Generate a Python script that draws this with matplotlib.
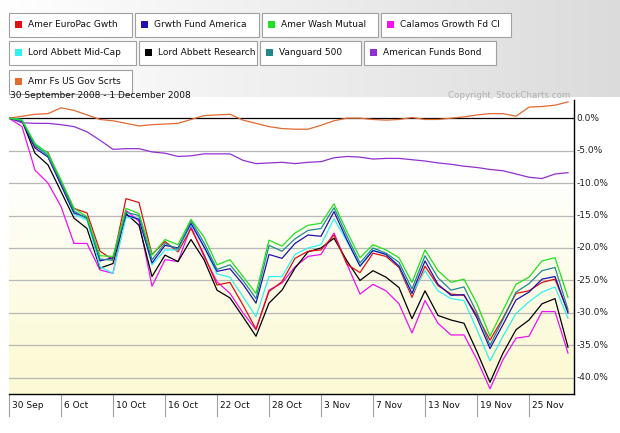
import matplotlib
matplotlib.use("Agg")
import matplotlib.pyplot as plt
import matplotlib.transforms as mtrans
from matplotlib.patches import Rectangle
import numpy as np

tick_labels = ["30 Sep", "6 Oct", "10 Oct", "16 Oct", "22 Oct", "28 Oct", "3 Nov", "7 Nov", "13 Nov", "19 Nov", "25 Nov"]
tick_idx = [0, 4, 8, 12, 16, 20, 24, 28, 32, 36, 40]

amer_europac = [0,-0.3,-4.4,-5.3,-10.0,-13.9,-14.6,-20.5,-21.8,-12.4,-13.0,-21.0,-19.0,-20.6,-17.0,-21.0,-25.7,-25.3,-28.8,-32.5,-26.7,-25.2,-21.6,-20.5,-20.3,-18.0,-22.5,-23.8,-20.8,-21.3,-23.0,-27.6,-22.8,-25.8,-27.1,-27.3,-30.4,-34.2,-30.8,-27.0,-26.6,-25.3,-24.8,-29.8]
growth_fund = [0,-0.5,-4.6,-6.0,-10.3,-14.6,-15.3,-22.0,-21.5,-14.9,-15.6,-22.3,-19.6,-20.0,-16.2,-19.8,-23.6,-23.2,-25.6,-28.5,-21.0,-21.6,-19.3,-18.0,-18.2,-14.4,-18.8,-22.8,-20.4,-21.0,-22.8,-27.0,-22.0,-25.6,-27.3,-27.2,-30.8,-35.5,-31.8,-28.0,-26.8,-24.8,-24.4,-30.0]
wash_mutual = [0,-0.3,-3.9,-5.4,-9.5,-13.9,-15.2,-21.2,-21.3,-13.9,-14.7,-21.1,-18.7,-19.5,-15.6,-18.3,-22.6,-21.8,-24.4,-27.0,-18.8,-19.7,-17.7,-16.5,-16.2,-13.2,-17.5,-21.5,-19.5,-20.3,-21.5,-25.3,-20.3,-23.5,-25.3,-24.8,-28.6,-33.6,-29.6,-25.6,-24.5,-22.0,-21.5,-27.6]
calamos = [0,-1.3,-8.0,-10.0,-13.6,-19.3,-19.3,-23.4,-23.9,-14.2,-15.9,-25.9,-21.8,-22.1,-16.7,-21.3,-25.2,-27.0,-30.0,-32.6,-26.5,-25.4,-22.9,-21.3,-21.0,-17.7,-22.5,-27.1,-25.6,-26.6,-28.6,-33.1,-28.1,-31.6,-33.4,-33.4,-37.2,-41.7,-37.2,-33.9,-33.6,-29.8,-29.8,-36.2]
lord_midcap = [0,-0.2,-4.0,-5.6,-10.2,-14.8,-15.7,-22.9,-23.9,-15.3,-15.4,-22.6,-20.3,-20.3,-16.4,-19.9,-24.0,-24.5,-27.5,-30.6,-24.4,-24.4,-21.0,-20.0,-19.5,-15.5,-19.0,-22.8,-20.3,-21.0,-22.8,-27.1,-23.5,-26.6,-27.8,-28.1,-32.6,-37.4,-33.6,-30.1,-28.3,-26.8,-26.0,-30.8]
lord_research = [0,-0.4,-5.4,-7.2,-11.3,-15.4,-17.0,-23.1,-22.4,-14.7,-16.5,-24.4,-21.1,-22.1,-18.7,-21.8,-26.5,-27.7,-30.6,-33.6,-28.5,-26.5,-23.1,-20.6,-20.0,-18.5,-22.0,-25.0,-23.5,-24.5,-26.1,-30.9,-26.6,-30.4,-31.1,-31.6,-36.0,-40.7,-36.2,-32.6,-31.1,-28.6,-27.8,-35.3]
vanguard500 = [0,-0.4,-4.2,-5.8,-9.9,-14.3,-15.5,-21.7,-21.9,-14.5,-15.0,-21.8,-19.3,-20.2,-15.8,-19.2,-23.3,-22.6,-25.0,-27.8,-19.6,-20.5,-18.6,-17.3,-17.0,-13.8,-18.2,-22.3,-20.0,-20.8,-22.2,-26.3,-21.2,-24.6,-26.5,-26.0,-30.0,-35.0,-31.0,-26.8,-25.5,-23.5,-23.0,-29.5]
funds_bond = [0,-0.7,-0.8,-0.8,-1.0,-1.3,-2.1,-3.4,-4.8,-4.7,-4.7,-5.2,-5.4,-5.9,-5.8,-5.5,-5.5,-5.5,-6.5,-7.0,-6.9,-6.8,-7.0,-6.8,-6.7,-6.1,-5.9,-6.0,-6.3,-6.2,-6.2,-6.4,-6.6,-6.9,-7.1,-7.4,-7.6,-7.9,-8.1,-8.6,-9.1,-9.3,-8.6,-8.4]
gov_secs = [0,0.3,0.6,0.7,1.6,1.2,0.5,-0.2,-0.4,-0.8,-1.2,-1.0,-0.9,-0.8,-0.2,0.4,0.5,0.6,-0.3,-0.8,-1.3,-1.6,-1.7,-1.7,-1.1,-0.4,0.0,0.0,-0.2,-0.3,-0.2,0.1,-0.2,-0.2,0.0,0.2,0.5,0.7,0.7,0.3,1.7,1.8,2.0,2.5]

series = [
    ("Amer EuroPac Gwth", "#e01010", amer_europac),
    ("Grwth Fund America", "#2010b0", growth_fund),
    ("Amer Wash Mutual", "#20e020", wash_mutual),
    ("Calamos Growth Fd Cl", "#f010f0", calamos),
    ("Lord Abbett Mid-Cap", "#30f0f0", lord_midcap),
    ("Lord Abbett Research", "#000000", lord_research),
    ("Vanguard 500", "#208890", vanguard500),
    ("American Funds Bond", "#9030d0", funds_bond),
    ("Amr Fs US Gov Scrts", "#e06a30", gov_secs),
]

W, H = 620, 433
fig = plt.figure(figsize=(6.2, 4.33), dpi=100)
fig.patch.set_facecolor("white")

# legend background gradient
bg = fig.add_axes([0, 1 - 97 / H, 1, 97 / H])
bg.axis("off")
grad = np.linspace(1.0, 0.86, 256)[None, :]
bg.imshow(np.dstack([grad, grad, grad]), aspect="auto", extent=[0, 1, 0, 1])
bg.set_xlim(0, 1); bg.set_ylim(0, 1)

boxes = [(9, 13, 123), (135, 13, 124), (262, 13, 116), (381, 13, 130),
         (9, 41, 127), (139, 41, 118), (260, 41, 101), (364, 41, 132),
         (9, 70, 123)]
for (name, col, _), (x0, y0, w) in zip(series, boxes):
    h = 24
    fig.patches.append(Rectangle((x0 / W, 1 - (y0 + h) / H), w / W, h / H, transform=fig.transFigure,
                                 facecolor="white", edgecolor="#a0a0a0", lw=0.8))
    fig.patches.append(Rectangle(((x0 + 6) / W, 1 - (y0 + 15) / H), 7 / W, 7 / H, transform=fig.transFigure,
                                 facecolor=col, edgecolor="none"))
    fig.text((x0 + 19) / W, 1 - (y0 + 11.5) / H, name, fontsize=6.5, va="center", ha="left", color="#111111")

# plot axes
left, right, top, bottom = 9, 574, 100, 394
ax = fig.add_axes([left / W, 1 - bottom / H, (right - left) / W, (bottom - top) / H])
n = len(wash_mutual)
x = np.arange(n)
ymin, ymax = -42.5, 2.8
xmax = (right - left) / 13.0
ax.set_xlim(0, xmax)
ax.set_ylim(ymin, ymax)

# background gradient white -> light yellow
yy = np.linspace(ymax, ymin, 300)
t = np.clip((-yy - 8) / 30, 0, 1)[:, None]
c0 = np.array([1, 1, 1]); c1 = np.array([0.99, 0.98, 0.84])
img = (c0 * (1 - t) + c1 * t)[:, None, :]
ax.imshow(img, aspect="auto", extent=[0, xmax, ymin, ymax], zorder=0)

for yv in range(-40, 1, 5):
    ax.axhline(yv, color="#000000" if yv == 0 else "#b8b8b8", lw=0.9, zorder=1)

order = [7, 8, 3, 5, 0, 4, 1, 6, 2]
for i in order:
    name, col, vals = series[i]
    ax.plot(x, vals, color=col, lw=0.9, zorder=3)

ax.set_xticks([]); ax.set_yticks([])
for s in ["left", "top"]:
    ax.spines[s].set_visible(False)
ax.spines["right"].set_linewidth(1.0)
ax.spines["bottom"].set_linewidth(1.0)

for yv in range(-40, 1, 5):
    ax.text(1.004, yv, f"{yv:.1f}%", transform=mtrans.blended_transform_factory(ax.transAxes, ax.transData),
            fontsize=6.5, va="center", ha="left", color="#222222")

tr = mtrans.blended_transform_factory(ax.transData, fig.transFigure)
for idx, lab in zip(tick_idx, tick_labels):
    ax.plot([idx, idx], [1 - bottom / H, 1 - 416 / H], transform=tr, color="#a0a0a0", lw=0.8, clip_on=False)
    ax.text(idx + 0.25, 1 - 406 / H, lab, transform=tr, fontsize=6.5, va="center", ha="left", color="#111111")

fig.text(10 / W, 1 - 96 / H, "30 September 2008 - 1 December 2008", fontsize=6.5, va="center", ha="left", color="#111111")
fig.text(570 / W, 1 - 96 / H, "Copyright, StockCharts.com", fontsize=6.3, va="center", ha="right", color="#b0b0b0")

fig.savefig("out.png", dpi=100)
